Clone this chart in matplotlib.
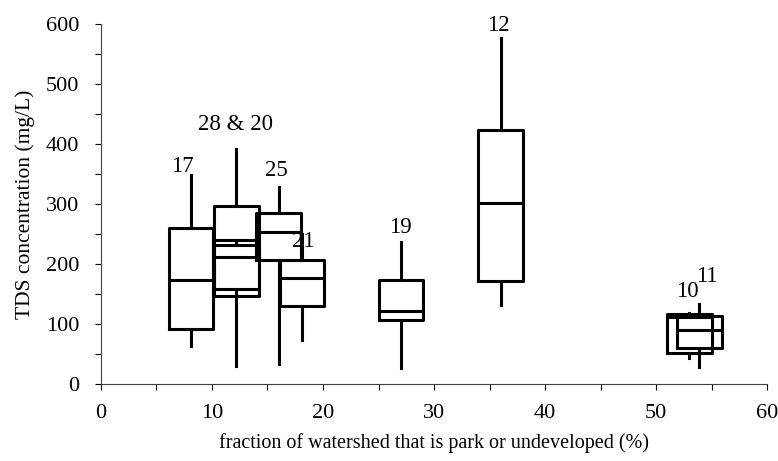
import matplotlib
matplotlib.use("Agg")
import matplotlib.pyplot as plt
from matplotlib.ticker import MultipleLocator

plt.rcParams['font.family'] = ['Liberation Serif', 'DejaVu Serif']

# box statistics (TDS, mg/L)
sites = ["17", "28", "20", "25", "21", "19", "12", "10", "11"]
park_frac = [8.1, 12.2, 12.2, 16.0, 18.1, 27.0, 36.0, 53.0, 53.9]
whis_lo = [63, 30, 150, 33, 73, 27, 132, 43, 28]
q1 = [92, 147, 158, 206, 130, 107, 172, 51, 60]
med = [174, 240, 212, 254, 177, 122, 301, 112, 90]
q3 = [260, 297, 232, 285, 207, 173, 424, 116, 113]
whis_hi = [348, 392, 240, 329, 250, 237, 576, 119, 134]

# label text and where it sits
label_txt = ["17", "28 & 20", "25", "21", "19", "12", "10", "11"]
label_x = [7.3, 12.1, 15.8, 18.2, 27.0, 35.8, 52.8, 54.6]
label_y = [362, 432, 355, 237, 261, 598, 154, 179]

stats = []
for i in range(len(sites)):
    stats.append(dict(label=sites[i], whislo=whis_lo[i], q1=q1[i], med=med[i],
                      q3=q3[i], whishi=whis_hi[i], fliers=[]))

fig = plt.figure(figsize=(7.78, 4.61), dpi=100)
ax = fig.add_axes([0.1298, 0.167, 0.8561, 0.781])

lw = 2.2
ax.bxp(stats, positions=park_frac, widths=4.0, showfliers=False, showcaps=False,
       manage_ticks=False,
       boxprops=dict(color='black', linewidth=lw),
       whiskerprops=dict(color='black', linewidth=lw),
       medianprops=dict(color='black', linewidth=lw))

for t, x, y in zip(label_txt, label_x, label_y):
    ax.text(x, y, t, ha='center', va='center', fontsize=16.5, clip_on=False)

ax.set_xlim(0, 60)
ax.set_ylim(0, 600)
ax.xaxis.set_major_locator(MultipleLocator(10))
ax.xaxis.set_minor_locator(MultipleLocator(5))
ax.yaxis.set_major_locator(MultipleLocator(100))
ax.yaxis.set_minor_locator(MultipleLocator(50))
ax.tick_params(which='both', direction='out', length=4.5, width=0.8, labelsize=16)
ax.tick_params(axis='y', pad=11)
ax.tick_params(axis='x', pad=10)
ax.spines['top'].set_visible(False)
ax.spines['right'].set_visible(False)
for s in ['left', 'bottom']:
    ax.spines[s].set_linewidth(0.8)
    ax.spines[s].set_color('#404040')

ax.set_xlabel("fraction of watershed that is park or undeveloped (%)", fontsize=14.5, labelpad=7)
ax.set_ylabel("TDS concentration (mg/L)", fontsize=15.5, labelpad=8)

fig.savefig("out.png", dpi=100)
